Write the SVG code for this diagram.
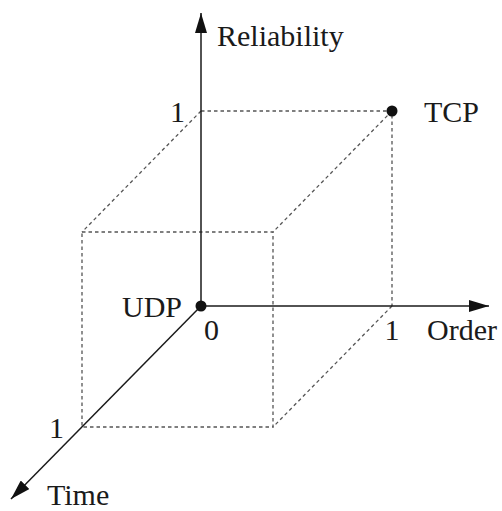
<svg xmlns="http://www.w3.org/2000/svg" width="502" height="511" viewBox="0 0 502 511">
  <style>
    text { font-family: 'Liberation Serif', 'Times New Roman', Times, serif; font-size: 30px; fill: #1a1a1a; }
    .axis { stroke: #1a1a1a; stroke-width: 1.5; fill: none; }
    .dash { stroke: #555; stroke-width: 1.3; stroke-dasharray: 3.5 3; fill: none; }
    .dot { fill: #111; }
  </style>
  <defs>
    <marker id="arrow" viewBox="0 0 20 12" refX="20" refY="6" markerWidth="20" markerHeight="12" markerUnits="userSpaceOnUse" orient="auto">
      <path d="M0,0 L20,6 L0,12 Z" fill="#111"/>
    </marker>
  </defs>
  <rect width="502" height="511" fill="#fff"/>

  <g id="cube">
    <path class="dash" d="M201,111 H392 V306"/>
    <path class="dash" d="M201,111 L82,232"/>
    <path class="dash" d="M392,111 L273,232"/>
    <path class="dash" d="M392,306 L273,427"/>
    <path class="dash" d="M82,232 H273 V427 H82 Z"/>
  </g>

  <g id="connectors">
    <line class="axis" x1="201" y1="306" x2="201" y2="13" marker-end="url(#arrow)"/>
    <line class="axis" x1="201" y1="306" x2="489" y2="306" marker-end="url(#arrow)"/>
    <line class="axis" x1="201" y1="306" x2="11" y2="499" marker-end="url(#arrow)"/>
  </g>

  <g id="axis-labels">
    <text x="217" y="46" font-family="Liberation Serif, serif">Reliability</text>
    <text x="427" y="340">Order</text>
    <text x="47" y="505">Time</text>
    <text x="170" y="122">1</text>
    <text x="204" y="340">0</text>
    <text x="392" y="340" text-anchor="middle">1</text>
    <text x="49" y="438">1</text>
  </g>

  <g id="TCP">
    <circle class="dot" cx="392" cy="111" r="5.5"/>
    <text x="424" y="122">TCP</text>
  </g>

  <g id="UDP">
    <circle class="dot" cx="201" cy="306" r="5.5"/>
    <text x="122" y="317">UDP</text>
  </g>
</svg>
